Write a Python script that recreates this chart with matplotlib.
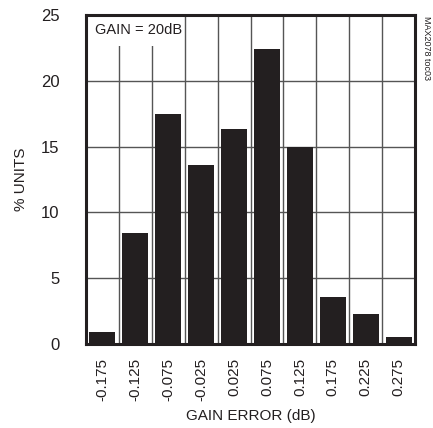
import matplotlib
matplotlib.use("Agg")
import matplotlib.pyplot as plt
from matplotlib import font_manager
from matplotlib.patches import Rectangle

# gain error bins (dB) and share of units (%)
bins = ["-0.175", "-0.125", "-0.075", "-0.025", "0.025",
        "0.075", "0.125", "0.175", "0.225", "0.275"]
units = [0.9, 8.4, 17.5, 13.6, 16.3, 22.4, 15.0, 3.55, 2.3, 0.53]
yticks = [0, 5, 10, 15, 20, 25]

names = {f.name for f in font_manager.fontManager.ttflist}
fam = "Liberation Sans Narrow" if "Liberation Sans Narrow" in names else "Liberation Sans"
plt.rcParams["font.family"] = [fam, "DejaVu Sans"]
ink = "#231f20"

fig = plt.figure(figsize=(4.33, 4.28), dpi=100)
ax = fig.add_axes([0.1986, 0.1963, 0.760, 0.7687])

x = list(range(len(bins)))
ax.bar(x, units, width=0.79, color=ink, zorder=3)

ax.set_xlim(-0.5, len(bins) - 0.5)
ax.set_ylim(0, 25)
ax.set_xticks(x)
ax.set_xticklabels(bins, rotation=90, fontsize=11, color=ink)
ax.set_yticks(yticks)
ax.set_yticklabels([str(v) for v in yticks], fontsize=12, color=ink)
ax.set_xticks([i + 0.5 for i in x[:-1]], minor=True)
ax.tick_params(axis="both", which="both", length=0)
ax.tick_params(axis="x", pad=10)
ax.tick_params(axis="y", pad=19)
ax.set_axisbelow(True)

ax.grid(True, which="minor", axis="x", color="#555555", lw=1.0)
ax.grid(True, which="major", axis="y", color="#555555", lw=1.0)

for s in ax.spines.values():
    s.set_linewidth(2.2)
    s.set_color(ink)
    s.set_zorder(6)

ax.set_xlabel("GAIN ERROR (dB)", fontsize=11, color=ink)
ax.set_ylabel("% UNITS", fontsize=11, color=ink)
ax.xaxis.set_label_coords(0.5, -0.197)
ax.yaxis.set_label_coords(-0.176, 0.5)

# white patch behind the gain note hides the grid there
ax.add_patch(Rectangle((0.021, 0.905), 0.274, 0.09, transform=ax.transAxes,
                       facecolor="white", edgecolor="none", zorder=4))
ax.text(0.027, 0.955, "GAIN = 20dB", transform=ax.transAxes, fontsize=10.5,
        va="center", ha="left", color=ink, zorder=5)

fig.text(0.984, 0.962, "MAX2078 toc03", rotation=270, fontsize=6.5,
         va="top", ha="center", color=ink)

fig.savefig("out.png", dpi=100)
